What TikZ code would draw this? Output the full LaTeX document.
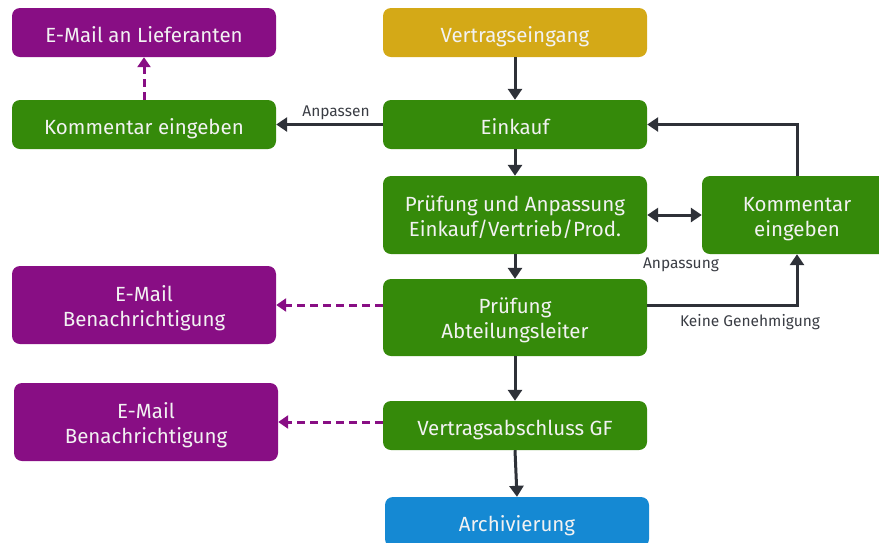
\documentclass[tikz,border=0pt]{standalone}
\usepackage{fontspec}
\setmainfont{Fira Sans}
\usetikzlibrary{arrows.meta}
\definecolor{cgreen}{HTML}{358A0A}
\definecolor{cpurple}{HTML}{880E84}
\definecolor{cgold}{HTML}{D4A917}
\definecolor{cblue}{HTML}{1589D3}
\definecolor{cline}{HTML}{2E3138}
\definecolor{clabel}{HTML}{3A3D44}
\begin{document}
\begin{tikzpicture}[x=1pt,y=-1pt,
  box/.style={rounded corners=8pt, minimum width=264pt, text=white!95!black,
    font=\fontsize{20.5}{25}\selectfont, align=center, inner sep=0pt},
  one/.style={minimum height=49pt, text height=22pt, text depth=3pt},
  two/.style={minimum height=78pt, text height=45pt, text depth=3pt},
  green/.style={box, fill=cgreen},
  purple/.style={box, fill=cpurple},
  arr/.style={draw=cline, line width=3pt, -{Triangle[width=14pt,length=11pt]}},
  darr/.style={draw=cline, line width=3pt, {Triangle[width=14pt,length=11pt]}-{Triangle[width=14pt,length=11pt]}},
  parr/.style={draw=cpurple, line width=3pt, dash pattern=on 8pt off 5pt, -{Triangle[width=13pt,length=10pt]}},
  lbl/.style={text=clabel, font=\fontsize{15.5}{18}\selectfont, inner sep=0pt}]
\useasboundingbox (0,0) rectangle (879,542);
% nodes
\node[purple, one] (ml) at (144,32.5) {E-Mail an Lieferanten};
\node[box, fill=cgold, one] (ve) at (515,32.5) {Vertragseingang};
\node[green, one] (kl) at (144,124.5) {Kommentar eingeben};
\node[green, one] (ek) at (515,124.5) {Einkauf};
\node[green, two] (pa) at (515,215) {Prüfung und Anpassung\\Einkauf/Vertrieb/Prod.};
\node[green, two, minimum width=190pt] (kr) at (797,215) {Kommentar\\eingeben};
\node[green, two, minimum height=77pt] (al) at (515,317.5) {Prüfung\\Abteilungsleiter};
\node[purple, two] (m1) at (144,305) {E-Mail\\Benachrichtigung};
\node[purple, two] (m2) at (146,422) {E-Mail\\Benachrichtigung};
\node[green, one] (vg) at (515,425.5) {Vertragsabschluss GF};
\node[box, fill=cblue, one, minimum height=50pt] (ar) at (517,522) {Archivierung};
% labels
\node[lbl] (l1) at (336,112.5) {Anpassen};
\node[lbl] (l2) at (681,264.5) {Anpassung};
\node[lbl] (l3) at (750,322.5) {Keine Genehmigung};
% connectors
\draw[arr] (ve) -- (ek);
\draw[arr] (ek) -- (kl);
\draw[parr] (kl) -- (ml);
\draw[arr] (ek) -- (pa);
\draw[darr] (pa) -- (kr);
\draw[arr] (kr.north) |- (ek.east);
\draw[arr] (pa) -- (al);
\draw[arr] ([yshift=12.5pt]al.east) -| (kr.south);
\draw[parr] ([yshift=12.5pt]al.west) -- (m1.east);
\draw[arr] (al) -- (vg);
\draw[parr] (vg.west |- m2.east) -- (m2.east);
\draw[arr] (vg.south) -- (ar.north);
\end{tikzpicture}
\end{document}
